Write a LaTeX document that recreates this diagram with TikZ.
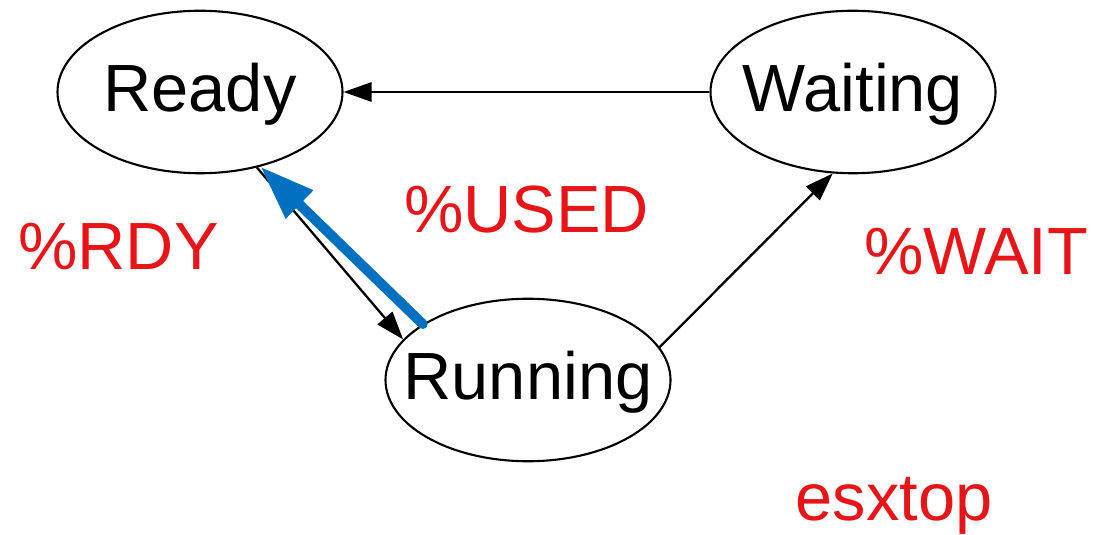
\documentclass[tikz,border=0pt]{standalone}
\usepackage{fontspec}
\setmainfont{Liberation Sans}
\usetikzlibrary{arrows.meta, shapes.geometric}
\definecolor{pctred}{RGB}{232,20,24}
\definecolor{usedblue}{RGB}{0,112,192}
\newcommand{\statetext}[1]{\makebox[0pt]{\raisebox{-0.29em}[0pt][0pt]{#1}}}
\tikzset{
    proc/.style={draw, ellipse, line width=1.2pt, inner sep=0pt, minimum width=5.7cm, minimum height=3.25cm, font=\fontsize{38}{40}\selectfont},
    pct/.style={anchor=base, text=pctred, font=\fontsize{38}{40}\selectfont},
    flow/.style={line width=1.3pt, -{Triangle[length=16pt,width=11pt]}}
}
\begin{document}
\begin{tikzpicture}
    \useasboundingbox (0, 0) rectangle (21.86, 10.68);

    %%states
    \node[proc] (ready) at (4.0, 8.84){\statetext{Ready}};
    \node[proc] (waiting) at (17.06, 8.84){\statetext{Waiting}};
    \node[proc] (running) at (10.56, 3.08){\statetext{Running}};

    %%transitions
    \draw[flow] (waiting.west) to (ready.east);
    \draw[flow] (running.14) to (waiting.256);
    \draw[flow] (ready.307) to (running.162);
    \draw[usedblue, line width=5.7pt, line cap=round, -{Triangle[length=31pt,width=21pt]}] (running.152) to (ready.309);

    %%counters
    \node[pct] (rdy) at (2.37, 5.28){\%RDY};
    \node[pct] (used) at (10.53, 6.02){\%USED};
    \node[pct] (wait) at (19.52, 5.18){\%WAIT};
    \node[pct] (tool) at (17.88, 0.28){esxtop};
\end{tikzpicture}
\end{document}
